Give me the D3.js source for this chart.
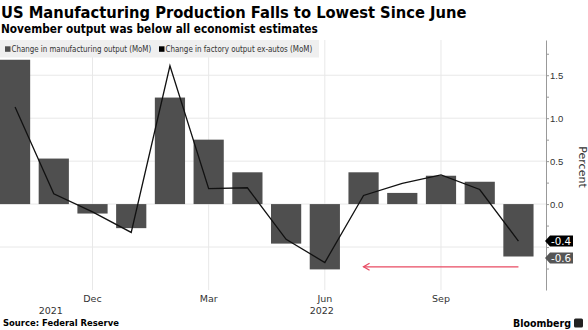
<!DOCTYPE html>
<html>
<head>
<meta charset="utf-8">
<script src="https://cdnjs.cloudflare.com/ajax/libs/d3/7.8.5/d3.min.js"></script>
<style>
  body { margin: 0; background: #fff; }
  svg { display: block; font-family: "DejaVu Sans", Verdana, sans-serif; }
</style>
</head>
<body>
<div id="chart"></div>
<script>
// monthly % change, Oct 2021 - Nov 2022
var months = ["2021-10", "2021-11", "2021-12", "2022-01", "2022-02", "2022-03", "2022-04",
              "2022-05", "2022-06", "2022-07", "2022-08", "2022-09", "2022-10", "2022-11"];
var manufacturing = [1.68, 0.53, -0.11, -0.28, 1.24, 0.75, 0.37, -0.46, -0.76, 0.37, 0.13, 0.33, 0.26, -0.61];
var exAutos = [1.13, 0.12, -0.09, -0.33, 1.61, 0.18, 0.19, -0.41, -0.68, 0.10, 0.24, 0.34, 0.17, -0.43];

var monthTicks = ["2021-12", "2022-03", "2022-06", "2022-09"];
var monthTickLabels = ["Dec", "Mar", "Jun", "Sep"];
var yearMonths = ["2021-11", "2022-06"];
var yearLabels = ["2021", "2022"];
var yTicks = [-0.5, 0, 0.5, 1, 1.5];
var yLabelTicks = [0, 0.5, 1, 1.5];
var yMinorTicks = [-0.75, -0.25, 0.25, 0.75, 1.25, 1.75];
var seriesNames = ["Change in manufacturing output (MoM)", "Change in factory output ex-autos (MoM)"];

// squeeze a text horizontally so it spans the given width
function fitWidth(sel, w) {
    sel.each(function () {
        var natural = this.getComputedTextLength();
        var x0 = +this.getAttribute("x") || 0;
        if (natural > 0) {
            var k = w / natural;
            d3.select(this).attr("transform", "translate(" + x0 + ",0) scale(" + k + ",1) translate(" + (-x0) + ",0)");
        }
    });
}

(function (d3) {

    /***** Configuration *****/
    var width = 588, height = 330;
    var plot = { top: 40, bottom: 290, axisX: 546 };
    var barColor = "#4f4f4f";
    var lineColor = "#111";
    var fmt = d3.formatLocale({ decimal: ".", thousands: ",", grouping: [3], currency: ["", ""], minus: "-" }).format(".1f");

    var svg = d3.select("#chart")
                .append("svg")
                .attr("width", width)
                .attr("height", height);

    var x = d3.scaleBand()
              .domain(months)
              .range([-4.3, 537.8])
              .paddingInner(0.22)
              .paddingOuter(0.11);
    var cx = function (m) { return x(m) + x.bandwidth() / 2; };

    var y = d3.scaleLinear()
              .domain([-1, 1.91])
              .range([plot.bottom, plot.top]);

    /***** Titles *****/
    svg.append("text")
       .attr("x", 1).attr("y", 18.5)
       .attr("font-size", 16).attr("font-weight", "bold")
       .text("US Manufacturing Production Falls to Lowest Since June")
       .call(fitWidth, 466);
    svg.append("text")
       .attr("x", 1).attr("y", 33.3)
       .attr("font-size", 12.5).attr("font-weight", "bold")
       .text("November output was below all economist estimates")
       .call(fitWidth, 317);

    /***** Grid *****/
    var grid = svg.append("g").attr("stroke", "#e8e8e8").attr("stroke-width", 1);
    grid.selectAll("line.h")
        .data(yTicks)
        .enter()
        .append("line")
        .attr("x1", 0).attr("x2", plot.axisX)
        .attr("y1", function (d) { return y(d); })
        .attr("y2", function (d) { return y(d); });
    grid.selectAll("line.v")
        .data(monthTicks)
        .enter()
        .append("line")
        .attr("x1", cx).attr("x2", cx)
        .attr("y1", plot.top).attr("y2", plot.bottom);

    /***** Legend *****/
    var legend = svg.append("g");
    legend.append("rect")
          .attr("x", 0).attr("y", 40)
          .attr("width", 319).attr("height", 17.5)
          .attr("fill", "#efefef");
    var legendX = [5, 159];
    var legendW = [140, 147];
    var legendColors = [barColor, "#000"];
    seriesNames.forEach(function (name, i) {
        legend.append("rect")
              .attr("x", legendX[i]).attr("y", 46.3)
              .attr("width", 5.5).attr("height", 5.5)
              .attr("fill", legendColors[i]);
        legend.append("text")
              .attr("x", legendX[i] + 6.5).attr("y", 52.3)
              .attr("font-size", 9).attr("fill", "#333")
              .text(name)
              .call(fitWidth, legendW[i]);
    });

    /***** Bars and line *****/
    svg.append("g")
       .selectAll("rect")
       .data(manufacturing)
       .enter()
       .append("rect")
       .attr("x", function (d, i) { return x(months[i]); })
       .attr("y", function (d) { return y(Math.max(0, d)); })
       .attr("width", x.bandwidth())
       .attr("height", function (d) { return Math.abs(y(d) - y(0)); })
       .attr("fill", barColor);

    var line = d3.line()
                 .x(function (d, i) { return cx(months[i]); })
                 .y(function (d) { return y(d); });
    svg.append("path")
       .datum(exAutos)
       .attr("d", line)
       .attr("fill", "none")
       .attr("stroke", lineColor)
       .attr("stroke-width", 1.3)
       .attr("stroke-linejoin", "miter");

    // arrow pointing back to the June low
    var arrowY = y(-0.73);
    var ax0 = cx("2022-07"), ax1 = cx("2022-11");
    var arrow = svg.append("g")
                   .attr("stroke", "#e84a62").attr("stroke-width", 1.3).attr("fill", "none");
    arrow.append("line")
         .attr("x1", ax0).attr("x2", ax1)
         .attr("y1", arrowY).attr("y2", arrowY);
    arrow.append("path")
         .attr("d", "M" + (ax0 + 6) + "," + (arrowY - 3.5) + "L" + ax0 + "," + arrowY + "L" + (ax0 + 6) + "," + (arrowY + 3.5));

    /***** Axes *****/
    var yAxis = svg.append("g")
                   .attr("transform", "translate(" + plot.axisX + ",0)")
                   .call(d3.axisRight(y).tickValues(yTicks).tickSize(3).tickSizeOuter(0).tickPadding(1)
                           .tickFormat(function (d) { return yLabelTicks.indexOf(d) >= 0 ? fmt(d) : ""; }));
    yAxis.select(".domain").attr("stroke", "#999");
    yAxis.selectAll(".tick line").attr("stroke", "#999");
    yAxis.selectAll(".tick text")
         .attr("font-family", null).attr("font-size", 9.5).attr("fill", "#333");

    var yMinor = svg.append("g")
                    .attr("transform", "translate(" + plot.axisX + ",0)")
                    .call(d3.axisRight(y).tickValues(yMinorTicks).tickSize(3).tickFormat(""));
    yMinor.select(".domain").remove();
    yMinor.selectAll(".tick line").attr("stroke", "#999");

    svg.append("text")
       .attr("transform", "translate(579,167) rotate(90)")
       .attr("text-anchor", "middle")
       .attr("font-size", 11).attr("fill", "#333")
       .text("Percent");

    svg.append("g")
       .selectAll("text")
       .data(monthTicks)
       .enter()
       .append("text")
       .attr("x", cx).attr("y", 301.8)
       .attr("text-anchor", "middle")
       .attr("font-size", 9.5).attr("fill", "#333")
       .text(function (d, i) { return monthTickLabels[i]; });

    svg.append("g")
       .selectAll("text")
       .data(yearMonths)
       .enter()
       .append("text")
       .attr("x", function (d) { return cx(d) - 3; }).attr("y", 314.3)
       .attr("text-anchor", "middle")
       .attr("font-size", 9.5).attr("fill", "#333")
       .text(function (d, i) { return yearLabels[i]; });

    /***** Last value labels *****/
    var lastIdx = months.length - 1;
    var lastValues = [
        { v: exAutos[lastIdx], fill: "#000" },
        { v: manufacturing[lastIdx], fill: "#555" }
    ];
    // keep the two tags from colliding
    lastValues.forEach(function (d) { d.ty = y(d.v); });
    lastValues.sort(function (a, b) { return a.ty - b.ty; });
    for (var i = 1; i < lastValues.length; i++) {
        if (lastValues[i].ty - lastValues[i - 1].ty < 17) lastValues[i].ty = lastValues[i - 1].ty + 17;
    }
    var tags = svg.append("g")
                  .selectAll("g")
                  .data(lastValues)
                  .enter()
                  .append("g")
                  .attr("transform", function (d) { return "translate(" + (plot.axisX - 1) + "," + d.ty + ")"; });
    tags.append("path")
        .attr("d", "M0,0L5,-5.5L28,-5.5L28,5.5L5,5.5Z")
        .attr("fill", function (d) { return d.fill; });
    tags.append("text")
        .attr("x", 6).attr("y", 3.8)
        .attr("font-size", 10.3).attr("fill", "#fff")
        .text(function (d) { return fmt(d.v); });

    /***** Footer *****/
    svg.append("text")
       .attr("x", 3).attr("y", 326.5)
       .attr("font-size", 9).attr("font-weight", "bold")
       .text("Source:  Federal Reserve")
       .call(fitWidth, 116);
    svg.append("text")
       .attr("x", 513).attr("y", 327)
       .attr("font-size", 11).attr("font-weight", "bold")
       .text("Bloomberg")
       .call(fitWidth, 58);
    svg.append("rect")
       .attr("x", 574).attr("y", 318.5)
       .attr("width", 9).attr("height", 9).attr("rx", 1.5)
       .attr("fill", "#222");

})(d3);
</script>
</body>
</html>
